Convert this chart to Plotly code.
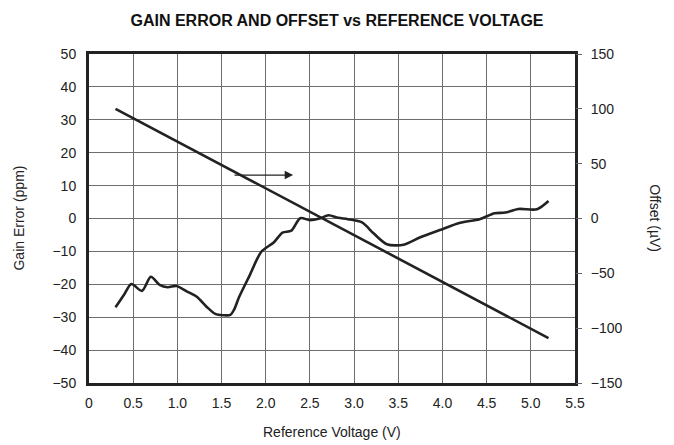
import plotly.graph_objects as go

# Gain error curve (ppm) vs reference voltage (V)
gain_v = [0.30, 0.40, 0.48, 0.60, 0.70, 0.80, 0.89, 0.99, 1.11, 1.22, 1.33, 1.43, 1.52, 1.60,
          1.64, 1.70, 1.82, 1.95, 2.09, 2.19, 2.29, 2.39, 2.50, 2.61, 2.71, 2.82, 2.93,
          3.09, 3.22, 3.37, 3.56, 3.75, 3.97, 4.20, 4.42, 4.59, 4.71, 4.86, 5.07, 5.20]
gain_ppm = [-27.0, -23.0, -19.9, -22.0, -17.7, -20.2, -20.9, -20.5, -22.2, -23.8, -26.8, -29.0, -29.4, -29.3,
            -27.8, -23.8, -17.2, -10.1, -7.3, -4.3, -3.7, 0.1, -0.5, 0.0, 1.0, 0.2, -0.2,
            -1.2, -4.5, -7.8, -8.0, -5.7, -3.5, -1.3, -0.2, 1.6, 1.8, 2.9, 2.8, 5.3]

# Offset line (uV) vs reference voltage (V)
offset_v = [0.30, 5.20]
offset_uv = [100, -109]

x_ticks = [0, 0.5, 1.0, 1.5, 2.0, 2.5, 3.0, 3.5, 4.0, 4.5, 5.0, 5.5]
x_labels = ["0", "0.5", "1.0", "1.5", "2.0", "2.5", "3.0", "3.5", "4.0", "4.5", "5.0", "5.5"]
y_ticks = [50, 40, 30, 20, 10, 0, -10, -20, -30, -40, -50]
y2_ticks = [150, 100, 50, 0, -50, -100, -150]

FONT = "Liberation Sans, Arial, sans-serif"
INK = "#222222"
GRID = "#6e6e6e"

fig = go.Figure()
fig.add_trace(go.Scatter(x=gain_v, y=gain_ppm, mode="lines",
                         line=dict(color=INK, width=2.6, shape="spline", smoothing=0.8),
                         showlegend=False, hoverinfo="skip"))
fig.add_trace(go.Scatter(x=offset_v, y=offset_uv, mode="lines", yaxis="y2",
                         line=dict(color=INK, width=2.6),
                         showlegend=False, hoverinfo="skip"))

# arrow showing offset line uses the right axis
fig.add_annotation(x=2.31, y=39.6, ax=1.63, ay=39.6, xref="x", yref="y2", axref="x", ayref="y2",
                   showarrow=True, arrowhead=2, arrowsize=1.3, arrowwidth=1.3, arrowcolor=INK, text="")

fig.add_annotation(text="Gain Error (ppm)", xref="paper", yref="paper", x=-0.146, y=0.5,
                   xanchor="center", yanchor="middle",
                   textangle=-90, showarrow=False, font=dict(family=FONT, size=14, color=INK))
fig.add_annotation(text="Offset (\u00b5V)", xref="paper", yref="paper", x=1.165, y=0.5,
                   xanchor="center", yanchor="middle",
                   textangle=90, showarrow=False, font=dict(family=FONT, size=14, color=INK))
fig.add_annotation(text="Reference Voltage (V)", xref="paper", yref="paper", x=0.5, y=-0.149,
                   xanchor="center", yanchor="middle",
                   showarrow=False, font=dict(family=FONT, size=14, color=INK))

fig.update_layout(
    width=666, height=437,
    margin=dict(l=81, r=99, t=46, b=62),
    paper_bgcolor="white", plot_bgcolor="white",
    title=dict(text="<b>GAIN ERROR AND OFFSET vs REFERENCE VOLTAGE</b>", x=329 / 666,
               xref="container", y=1 - 12 / 437, yref="container", xanchor="center",
               yanchor="middle", font=dict(family=FONT, size=16, color="#111111")),
    font=dict(family=FONT, size=14, color=INK),
    xaxis=dict(range=[0, 5.5], tickvals=x_ticks, ticktext=x_labels, showgrid=True,
               gridcolor=GRID, gridwidth=1, zeroline=False, showline=True, linecolor=INK,
               linewidth=3, mirror=True, ticks="", ticklabelstandoff=5),
    yaxis=dict(range=[-50, 50], tickvals=y_ticks, showgrid=True, gridcolor=GRID, gridwidth=1,
               zeroline=False, showline=True, linecolor=INK, linewidth=3, mirror=True,
               ticks="", ticklabelstandoff=7),
    yaxis2=dict(range=[-150, 150], tickvals=y2_ticks, overlaying="y", side="right",
                showgrid=False, zeroline=False, showline=False, ticks="outside",
                ticklen=6, tickcolor="#666666", tickwidth=1, ticklabelstandoff=6),
)

fig.write_html("out.html")
